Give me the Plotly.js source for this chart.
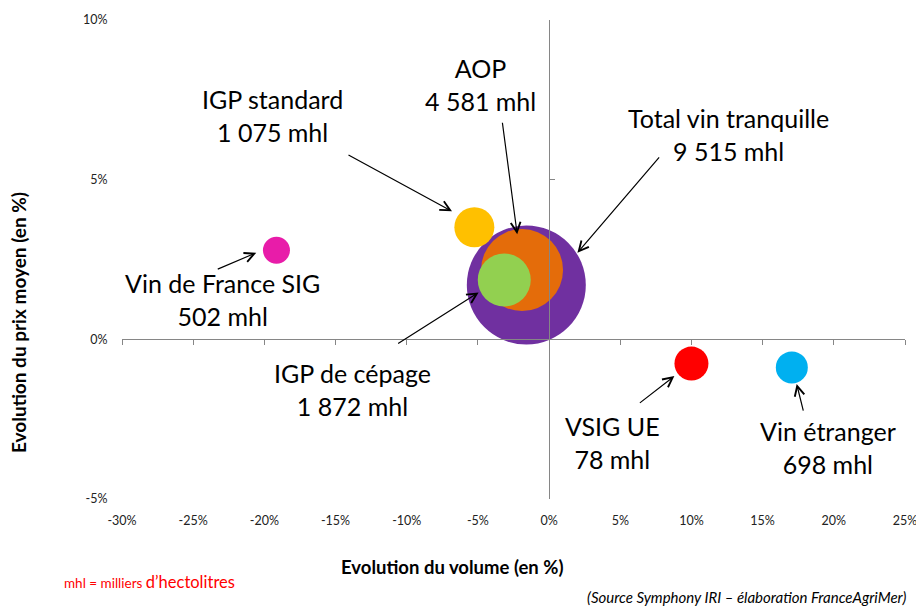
<!DOCTYPE html>
<html>
<head>
<meta charset="utf-8">
<script src="https://cdn.plot.ly/plotly-3.0.1.min.js"></script>
<style>html,body{margin:0;padding:0;background:#fff}#chart{width:916px;height:607px}</style>
</head>
<body>
<div id="chart"></div>
<script>
// ---- data ----
var categories = ["Total vin tranquille", "AOP", "IGP de cépage", "IGP standard", "Vin de France SIG", "VSIG UE", "Vin étranger"];
var volumeChange = [-1.6, -1.9, -3.15, -5.25, -19.15, 10.0, 17.05];   // % evolution du volume
var priceChange  = [1.70, 2.17, 1.86, 3.51, 2.79, -0.76, -0.88];      // % evolution du prix moyen
var volumesMhl   = ["9 515", "4 581", "1 872", "1 075", "502", "78", "698"];
var xTicks = [-30, -25, -20, -15, -10, -5, 0, 5, 10, 15, 20, 25];
var yTicks = [-5, 0, 5, 10];

// ---- styles ----
var bubbleColors = ["#7030A0", "#E46C0A", "#92D050", "#FFC000", "#E81CA9", "#FF0000", "#00B0F0"];
var bubbleDiam   = [119, 82, 53, 40, 27, 34, 32];
var FONT = "Lato, 'Open Sans', sans-serif";

var tickText = function(arr){ return arr.map(function(v){ return v + "%"; }); };

var traces = [
  {
    type: "scatter", mode: "markers",
    x: volumeChange, y: priceChange, text: categories,
    marker: { size: bubbleDiam, color: bubbleColors, opacity: 1, line: { width: 0 }, sizemode: "diameter" },
    hoverinfo: "text+x+y", showlegend: false, cliponaxis: false
  },
  { type: "scatter", mode: "markers", x: [], y: [], xaxis: "x2", yaxis: "y2", showlegend: false, hoverinfo: "skip" }
];

// label placements (data coords) and arrow tips/offsets
var labelPos = [
  { x: 12.57, y: 6.42 }, { x: -4.83, y: 7.97 }, { x: -13.78, y: -1.56 },
  { x: -19.42, y: 7.02 }, { x: -22.95, y: 1.26 }, { x: 4.46, y: -3.23 }, { x: 19.62, y: -3.39 }
];
var arrowTips = [
  { x: 1.99, y: 2.71, ax: 83, ay: -97 }, { x: -2.24, y: 3.29, ax: -15, ay: -113 },
  { x: -4.95, y: 1.47, ax: -82, ay: 52 }, { x: -6.82, y: 4.01, ax: -105, ay: -57 },
  { x: -20.57, y: 2.71, ax: -40, ay: 17 }, { x: 8.80, y: -1.15, ax: -36, ay: 28 },
  { x: 17.39, y: -1.40, ax: 7, ay: 28 }
];

var annotations = [];
categories.forEach(function(c, i){
  annotations.push({
    x: labelPos[i].x, y: labelPos[i].y, xref: "x", yref: "y",
    text: c + "<br>" + volumesMhl[i] + " mhl", showarrow: false,
    font: { family: FONT, size: 25, color: "#000" }, align: "center",
    xanchor: "center", yanchor: "middle"
  });
  annotations.push({
    x: arrowTips[i].x, y: arrowTips[i].y, xref: "x", yref: "y",
    ax: arrowTips[i].ax, ay: arrowTips[i].ay, text: "", showarrow: true,
    arrowhead: 5, arrowsize: 1.6, arrowwidth: 1.2, arrowcolor: "#000"
  });
});
annotations.push({
  xref: "paper", yref: "paper", x: -0.1328, y: 0.3674, textangle: -90,
  text: "<b>Evolution du prix moyen (en %)</b>", showarrow: false,
  font: { family: FONT, size: 19, color: "#000" }, xanchor: "center", yanchor: "middle"
});
annotations.push({
  xref: "paper", yref: "paper", x: 0.4215, y: -0.142,
  text: "<b>Evolution du volume (en %)</b>", showarrow: false,
  font: { family: FONT, size: 18.5, color: "#000" }, xanchor: "center", yanchor: "middle"
});
annotations.push({
  xref: "paper", yref: "paper", x: -0.0766, y: -0.1733,
  text: "mhl = milliers <span style=\"font-size:16.5px\">d’hectolitres</span>", showarrow: false,
  font: { family: FONT, size: 13.5, color: "#FF0000" }, xanchor: "left", yanchor: "middle"
});
annotations.push({
  xref: "paper", yref: "paper", x: 1.0038, y: -0.2046,
  text: "<i>(Source Symphony IRI – élaboration FranceAgriMer)</i>", showarrow: false,
  font: { family: FONT, size: 15, color: "#000" }, xanchor: "right", yanchor: "middle"
});

var layout = {
  width: 916, height: 607,
  margin: { l: 122, r: 11, t: 20, b: 108, pad: 0 },
  paper_bgcolor: "#fff", plot_bgcolor: "#fff",
  showlegend: false,
  font: { family: FONT, color: "#000" },
  xaxis: {
    range: [-30, 25], autorange: false, tickvals: xTicks, ticktext: tickText(xTicks),
    showgrid: false, zeroline: false, showline: false, ticklabeloverflow: "allow",
    ticks: "outside", ticklen: 10, tickcolor: "rgba(0,0,0,0)",
    tickfont: { family: FONT, size: 12.5, color: "#222" }, fixedrange: true
  },
  yaxis: {
    range: [-5, 10], autorange: false, tickvals: yTicks, ticktext: tickText(yTicks),
    showgrid: false, zeroline: false, showline: false, ticklabeloverflow: "allow",
    ticks: "outside", ticklen: 11, tickcolor: "rgba(0,0,0,0)",
    tickfont: { family: FONT, size: 12.5, color: "#222" }, fixedrange: true
  },
  xaxis2: {
    overlaying: "x", anchor: "free", position: 5 / 15, side: "bottom",
    range: [-30, 25], autorange: false, tickvals: xTicks, showticklabels: false,
    showgrid: false, zeroline: false, showline: true, linecolor: "#868686", linewidth: 1,
    ticks: "outside", ticklen: 5, tickcolor: "#868686", tickwidth: 1, fixedrange: true
  },
  yaxis2: {
    overlaying: "y", anchor: "free", position: 30 / 55, side: "left",
    range: [-5, 10], autorange: false, tickvals: yTicks, showticklabels: false,
    showgrid: false, zeroline: false, showline: true, linecolor: "#868686", linewidth: 1,
    ticks: "inside", ticklen: 5, tickcolor: "#868686", tickwidth: 1, fixedrange: true
  },
  annotations: annotations
};

Plotly.newPlot("chart", traces, layout, { displayModeBar: false, staticPlot: true });
</script>
</body>
</html>
